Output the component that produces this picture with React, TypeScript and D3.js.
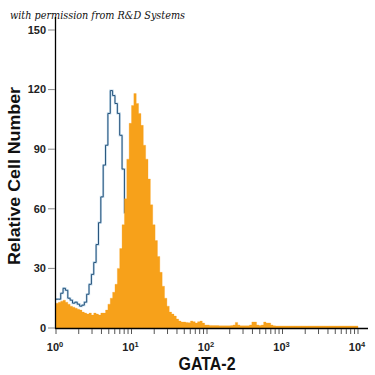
import React from "react";
import * as d3 from "d3";

const binsPerDecade = 32;
const isotypeCounts = [
  14.5, 14.5, 17.5, 20, 19, 15, 14, 12.5, 13, 12,
  11, 11.5, 13, 17, 22, 27, 33, 42, 53, 66,
  82, 92, 108, 119.5, 117, 113, 108, 97, 80, 58,
  40, 25, 14, 7, 4, 2, 1, 0.5, 0,
];
const gata2Counts = [
  12.5, 13, 13.5, 14, 13, 12, 11, 10.5, 10, 9.5,
  9, 8, 7.5, 7, 7.5, 6.5, 7.5, 7, 6.5, 7.5,
  7.5, 9, 12, 15, 18, 22, 30, 40, 52, 65,
  85, 103, 112, 118, 113, 108, 102, 92, 85, 75,
  62, 52, 44, 36, 28, 21, 15, 11, 8, 7,
  6, 4.5, 3.5, 3, 3, 2.8, 2.7, 3.5, 3.2, 2.5,
  3.2, 3.5, 2.5, 1.5, 1.5, 1.3, 1.2, 1.2, 1.2, 1.1,
  1.1, 1.1, 1.1, 1.1, 1.2, 1.5, 2.8, 1.5, 1.1, 1.1,
  1.1, 1.1, 1.5, 3, 3, 1.5, 1.2, 1.5, 3, 2.5,
  2.5, 1.5, 1.1, 1, 1, 1, 1, 1, 1, 1,
  1, 1, 1, 1, 1, 1, 1, 1, 1, 1,
  1, 1, 1, 1, 1, 1, 1, 1, 1, 1,
  1, 1, 1, 1, 1, 1, 1, 1,
];
const yTicks = [0, 30, 60, 90, 120, 150];
const xMajor = [1, 10, 100, 1000, 10000];
const xExponents = ["0", "1", "2", "3", "4"];

function toPoints(counts: number[]): [number, number][] {
  const pts: [number, number][] = counts.map((c, i) => [Math.pow(10, i / binsPerDecade), c]);
  pts.push([Math.pow(10, counts.length / binsPerDecade), counts[counts.length - 1]]);
  return pts;
}

export default function App() {
  const W = 375, H = 375;
  const x = d3.scaleLog().domain([1, 10000]).range([56, 358]);
  const y = d3.scaleLinear().domain([0, 150]).range([328, 30]);

  const area = d3
    .area<[number, number]>()
    .x((d) => x(d[0]))
    .y0(y(0))
    .y1((d) => y(d[1]))
    .curve(d3.curveStepAfter);
  const line = d3
    .line<[number, number]>()
    .x((d) => x(d[0]))
    .y((d) => y(d[1]))
    .curve(d3.curveStepAfter);

  const minor: number[] = [];
  for (let dec = 0; dec < 4; dec++) {
    for (let k = 2; k <= 9; k++) minor.push(k * Math.pow(10, dec));
  }

  const sans = "'Liberation Sans', Arial, sans-serif";

  return (
    <svg width={W} height={H} style={{ position: "absolute", left: 0, top: 0, background: "#fff" }}>
      <text
        x={10}
        y={19}
        fontFamily="'DejaVu Serif', 'Liberation Serif', serif"
        fontStyle="italic"
        fontSize={11.5}
        fill="#111"
        textLength={175}
        lengthAdjust="spacingAndGlyphs"
      >
        with permission from R&amp;D Systems
      </text>

      <path d={line(toPoints(isotypeCounts)) || ""} fill="none" stroke="#9cc3e0" strokeWidth={2.2} opacity={0.6} />
      <path d={line(toPoints(isotypeCounts)) || ""} fill="none" stroke="#24527a" strokeWidth={1} />
      <path d={area(toPoints(gata2Counts)) || ""} fill="#f7a11a" stroke="#f7a11a" strokeWidth={0.3} />

      {/* y axis */}
      <line x1={55.5} x2={55.5} y1={17} y2={329} stroke="#000" strokeWidth={1.3} />
      {yTicks.map((t) => (
        <g key={t}>
          <line x1={48} x2={55} y1={y(t)} y2={y(t)} stroke="#888" strokeWidth={1} />
          <text
            x={46}
            y={y(t)}
            dy="0.35em"
            textAnchor="end"
            fontFamily={sans}
            fontWeight="bold"
            fontSize={11}
            fill="#222"
          >
            {t}
          </text>
        </g>
      ))}

      {/* x axis */}
      <line x1={55} x2={368} y1={328.5} y2={328.5} stroke="#000" strokeWidth={1.3} />
      {minor.concat(xMajor).map((t, i) => (
        <line key={i} x1={x(t)} x2={x(t)} y1={329} y2={334} stroke="#555" strokeWidth={1} />
      ))}
      {xMajor.map((t, i) => (
        <text
          key={t}
          x={x(t) - 1}
          y={351}
          textAnchor="middle"
          fontFamily={sans}
          fontWeight="bold"
          fontSize={11}
          fill="#222"
        >
          10
          <tspan fontSize={7.5} dy={-4.5}>
            {xExponents[i]}
          </tspan>
        </text>
      ))}

      <text
        x={207}
        y={370}
        textAnchor="middle"
        fontFamily={sans}
        fontWeight="bold"
        fontSize={19}
        fill="#111"
        textLength={57}
        lengthAdjust="spacingAndGlyphs"
      >
        GATA-2
      </text>
      <text
        transform="translate(20,176) rotate(-90)"
        textAnchor="middle"
        fontFamily={sans}
        fontWeight="bold"
        fontSize={17}
        fill="#111"
        textLength={178}
        lengthAdjust="spacingAndGlyphs"
      >
        Relative Cell Number
      </text>
    </svg>
  );
}
